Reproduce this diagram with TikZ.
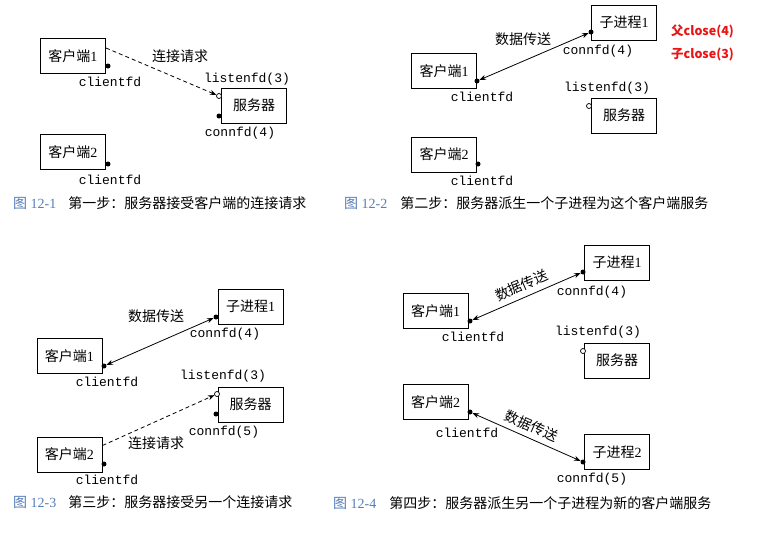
\documentclass[tikz,border=0pt]{standalone}
\usepackage{fontspec}
\setmainfont{Liberation Serif}
\setmonofont{Liberation Mono}
\newfontfamily\cjk{Noto Sans CJK SC}
\usetikzlibrary{arrows.meta,positioning}
\definecolor{capblue}{RGB}{85,125,185}
\definecolor{notered}{RGB}{235,20,20}

\begin{document}
\begin{tikzpicture}[x=1pt,y=-1pt,
  box/.style={draw,line width=1pt,minimum width=65pt,minimum height=35pt,inner sep=0pt,font=\fontsize{14}{16}\selectfont},
  fd/.style={font=\ttfamily\fontsize{13}{14}\selectfont,inner sep=0pt,text height=8pt,text depth=2pt},
  dot/.style={circle,fill,inner sep=0pt,minimum size=5pt},
  odot/.style={circle,draw,fill=white,inner sep=0pt,minimum size=5pt,line width=0.7pt},
  note/.style={font=\cjk\fontsize{14}{16}\selectfont},
  captxt/.style={anchor=west,inner sep=0pt,font=\fontsize{14}{16}\selectfont},
  closetxt/.style={anchor=west,inner sep=0pt,text=notered,font=\cjk\bfseries\fontsize{12.5}{14}\selectfont},
  req/.style={-{Stealth[length=6.5pt,width=5pt]},line width=0.8pt,dash pattern=on 4pt off 3pt},
  xfer/.style={{Stealth[length=6.5pt,width=5pt]}-{Stealth[length=6.5pt,width=5pt]},line width=0.8pt}]
\fill[white] (0,0) rectangle (780,541);
\useasboundingbox (0,0) rectangle (780,541);

% Fig 12-1: the server accepts a connection request
\node[box] (p1cli1) at (73,56) {{\cjk 客户端}1};
\node[box] (p1srv) at (254,105.5) {\cjk 服务器};
\node[box] (p1cli2) at (73,152) {{\cjk 客户端}2};
\node[dot] (p1d1) at (108,66) {};
\node[odot] (p1lis) at (219,96) {};
\node[dot] (p1con) at (219,116) {};
\node[dot] (p1d2) at (108,164) {};
\node[fd,below=9.5pt of p1d1,xshift=2pt] {clientfd};
\node[fd,above=8.5pt of p1lis,xshift=28pt] {listenfd(3)};
\node[fd,below=9.5pt of p1con,xshift=21pt] {connfd(4)};
\node[fd,below=10pt of p1d2,xshift=2pt] {clientfd};
\node[note] (p1req) at (180,56) {连接请求};
\draw[req] ([yshift=-10pt]p1cli1.north east) -- (p1lis);
\node[captxt] (cap1) at (13,203) {\textcolor{capblue}{{\cjk 图} 12-1}\hspace{12pt}{\cjk 第一步：服务器接受客户端的连接请求}};

% Fig 12-2: the server forks a child
\node[box] (p2kid1) at (624,22.5) {{\cjk 子进程}1};
\node[box] (p2cli1) at (444,71) {{\cjk 客户端}1};
\node[box] (p2srv) at (624,115.5) {\cjk 服务器};
\node[box] (p2cli2) at (444,154.5) {{\cjk 客户端}2};
\node[dot] (p2k1) at (591,32) {};
\node[dot] (p2d1) at (477,81) {};
\node[odot] (p2lis) at (589,106) {};
\node[dot] (p2d2) at (478,164) {};
\node[fd,below=11.5pt of p2k1,xshift=7pt] {connfd(4)};
\node[fd,below=9.5pt of p2d1,xshift=5pt] {clientfd};
\node[fd,above=9.5pt of p2lis,xshift=18pt] {listenfd(3)};
\node[fd,below=10.5pt of p2d2,xshift=4pt] {clientfd};
\node[note] (p2data) at (523,39) {数据传送};
\draw[xfer] (p2d1) -- (p2k1);
\node[closetxt] (fclose) at (671,31) {父close(4)};
\node[closetxt] (cclose) at (671,55) {子close(3)};
\node[captxt] (cap2) at (344,203) {\textcolor{capblue}{{\cjk 图} 12-2}\hspace{13pt}{\cjk 第二步：服务器派生一个子进程为这个客户端服务}};

% Fig 12-3: the server accepts another request
\node[box] (p3kid1) at (250.5,306.5) {{\cjk 子进程}1};
\node[box] (p3cli1) at (69.5,356) {{\cjk 客户端}1};
\node[box] (p3srv) at (250.5,404.5) {\cjk 服务器};
\node[box] (p3cli2) at (69.5,454.5) {{\cjk 客户端}2};
\node[dot] (p3k1) at (216,317) {};
\node[dot] (p3d1) at (104,366) {};
\node[odot] (p3lis) at (217,394) {};
\node[dot] (p3con) at (216,414) {};
\node[dot] (p3d2) at (104,464) {};
\node[fd,below=9.5pt of p3k1,xshift=9pt] {connfd(4)};
\node[fd,below=9.5pt of p3d1,xshift=3pt] {clientfd};
\node[fd,above=9.5pt of p3lis,xshift=6pt] {listenfd(3)};
\node[fd,below=10.5pt of p3con,xshift=8pt] {connfd(5)};
\node[fd,below=9.5pt of p3d2,xshift=3pt] {clientfd};
\node[note] (p3data) at (156,316) {数据传送};
\node[note] (p3req) at (156,443) {连接请求};
\draw[xfer] (p3d1) -- (p3k1);
\draw[req] ([yshift=-9pt]p3cli2.north east) -- (p3lis);
\node[captxt] (cap3) at (13,502) {\textcolor{capblue}{{\cjk 图} 12-3}\hspace{12pt}{\cjk 第三步：服务器接受另一个连接请求}};

% Fig 12-4: the server forks another child
\node[box] (p4kid1) at (617,262.5) {{\cjk 子进程}1};
\node[box] (p4cli1) at (435.5,311) {{\cjk 客户端}1};
\node[box] (p4srv) at (617,360.5) {\cjk 服务器};
\node[box] (p4cli2) at (435.5,402) {{\cjk 客户端}2};
\node[box] (p4kid2) at (617,452) {{\cjk 子进程}2};
\node[dot] (p4k1) at (583,272) {};
\node[dot] (p4d1) at (470,321) {};
\node[odot] (p4lis) at (583,351) {};
\node[dot] (p4d2) at (470,412) {};
\node[dot] (p4k2) at (583,462) {};
\node[fd,below=12.5pt of p4k1,xshift=9pt] {connfd(4)};
\node[fd,below=9.5pt of p4d1,xshift=3pt] {clientfd};
\node[fd,above=10.5pt of p4lis,xshift=15pt] {listenfd(3)};
\node[fd,below=15pt of p4d2,xshift=-3pt] {clientfd};
\node[fd,below=9.5pt of p4k2,xshift=9pt] {connfd(5)};
\draw[xfer] (p4d1) -- node[note,midway,sloped,above=2pt] {数据传送} (p4k1);
\draw[xfer] (p4d2) -- node[note,midway,sloped,above=2pt] {数据传送} (p4k2);
\node[captxt] (cap4) at (333,503) {\textcolor{capblue}{{\cjk 图} 12-4}\hspace{13pt}{\cjk 第四步：服务器派生另一个子进程为新的客户端服务}};
\end{tikzpicture}
\end{document}
